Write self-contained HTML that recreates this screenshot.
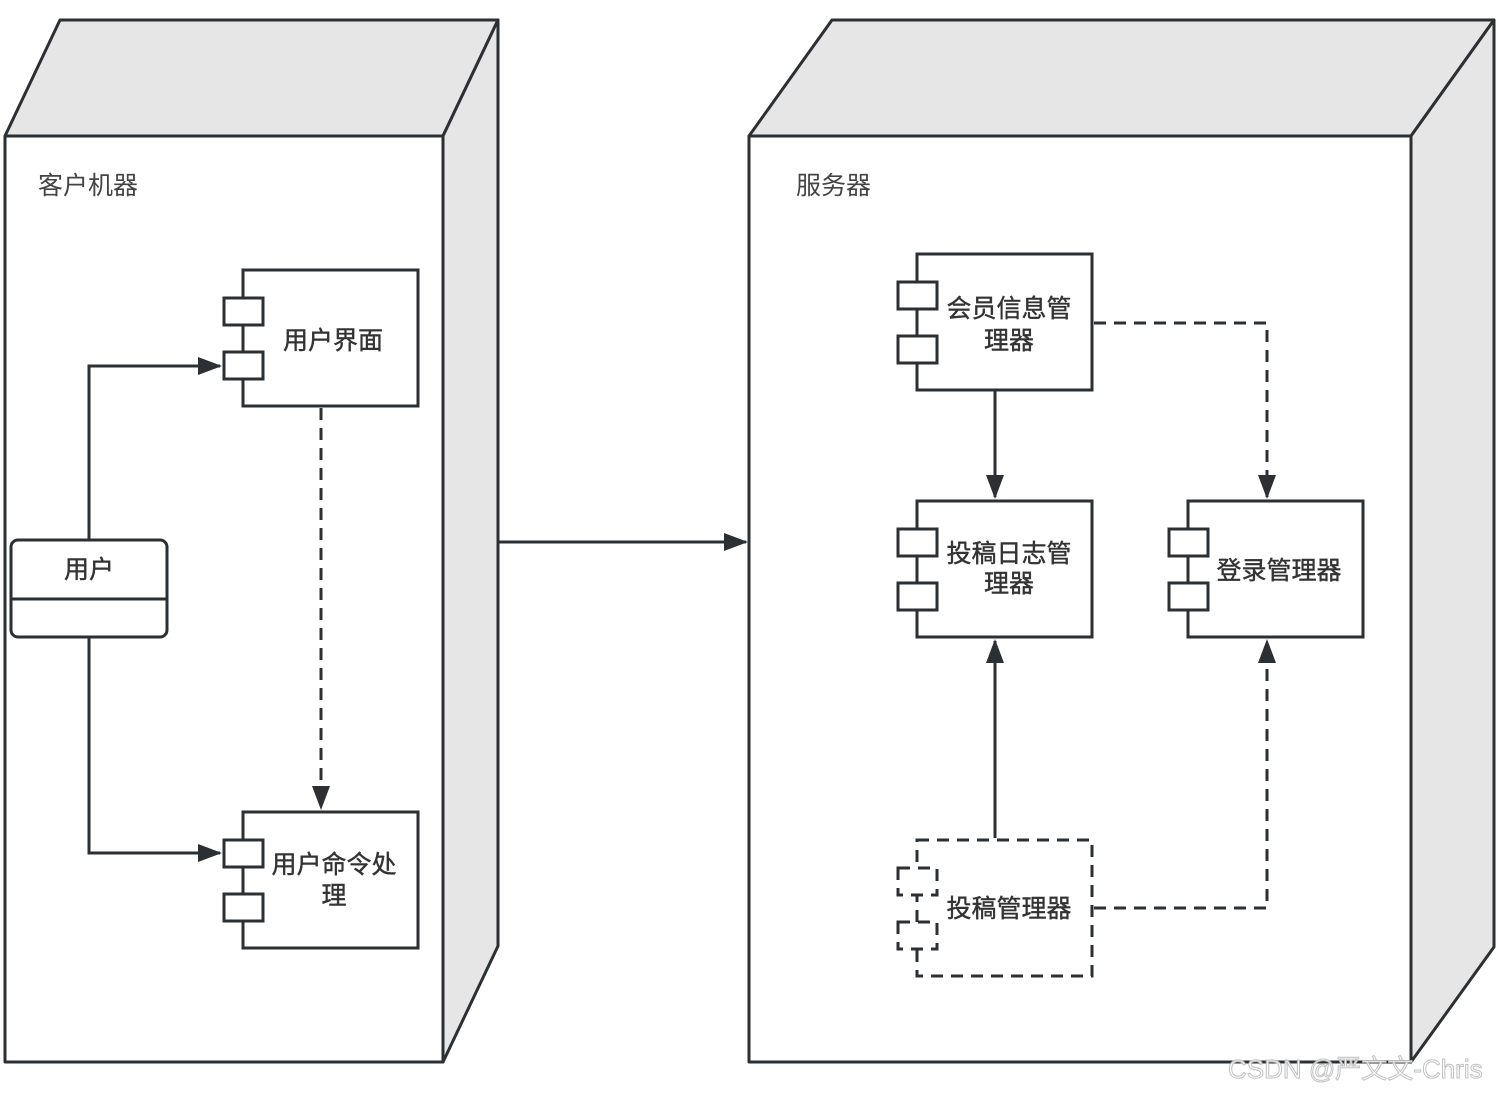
<!DOCTYPE html>
<html><head><meta charset="utf-8"><style>
html,body{margin:0;padding:0;background:#fff}
svg{display:block}
text{font-family:"Liberation Sans","Noto Sans CJK SC",sans-serif}
</style></head><body>
<svg width="1498" height="1094" viewBox="0 0 1498 1094" xmlns="http://www.w3.org/2000/svg">
<defs>
<marker id="b" markerWidth="24" markerHeight="18" refX="22" refY="9" orient="auto" markerUnits="userSpaceOnUse" viewBox="0 0 24 18">
<path d="M0,0 L24,9 L0,18 Z" fill="#2b3034"/></marker>
</defs>
<g stroke="#2b3034" stroke-width="3" stroke-linejoin="round">
<polygon points="5,136 60,20 498,20 443,136" fill="#e6e6e6"/>
<polygon points="443,136 498,20 498,946 443,1062" fill="#e6e6e6"/>
<rect x="5" y="136" width="438" height="926" fill="#fff"/>
<polygon points="749,136 832,20 1494,20 1411,136" fill="#e6e6e6"/>
<polygon points="1411,136 1494,20 1494,947 1411,1062" fill="#e6e6e6"/>
<rect x="749" y="136" width="662" height="926" fill="#fff"/>
</g>
<text x="38" y="194" font-size="25" fill="#444">客户机器</text>
<text x="796" y="194" font-size="25" fill="#444">服务器</text>
<g stroke="#2b3034" stroke-width="3" fill="none">
<polyline points="89,540 89,366 220,366" marker-end="url(#b)"/>
<polyline points="89,637 89,853 220,853" marker-end="url(#b)"/>
<line x1="321" y1="408" x2="321" y2="808" stroke-dasharray="12,8" marker-end="url(#b)"/>
<line x1="498" y1="542" x2="746" y2="542" marker-end="url(#b)"/>
<line x1="995" y1="390" x2="995" y2="497" marker-end="url(#b)"/>
<polyline points="1094,323 1267,323 1267,497" stroke-dasharray="12,8" marker-end="url(#b)"/>
<line x1="995" y1="838" x2="995" y2="641" marker-end="url(#b)"/>
<polyline points="1094,908 1267,908 1267,641" stroke-dasharray="12,8" marker-end="url(#b)"/>
</g>
<g stroke="#2b3034" stroke-width="3" fill="#fff">
<rect x="11" y="540" width="156" height="97" rx="7"/>
<line x1="11" y1="599" x2="167" y2="599"/>
<rect x="243" y="270" width="175" height="136"/>
<rect x="224" y="298" width="39" height="27"/><rect x="224" y="352" width="39" height="27"/>
<rect x="243" y="812" width="175" height="136"/>
<rect x="224" y="840" width="39" height="27"/><rect x="224" y="894" width="39" height="27"/>
<rect x="917" y="254" width="175" height="136"/>
<rect x="898" y="282" width="39" height="27"/><rect x="898" y="336" width="39" height="27"/>
<rect x="917" y="501" width="175" height="136"/>
<rect x="898" y="529" width="39" height="27"/><rect x="898" y="583" width="39" height="27"/>
<rect x="1188" y="501" width="175" height="136"/>
<rect x="1169" y="529" width="39" height="27"/><rect x="1169" y="583" width="39" height="27"/>
<g stroke-dasharray="12,8">
<rect x="917" y="840" width="175" height="136"/>
<rect x="898" y="868" width="39" height="27"/><rect x="898" y="922" width="39" height="27"/>
</g>
</g>
<g font-size="25" fill="#333" text-anchor="middle" stroke="#333" stroke-width="0.4">
<text x="89" y="578">用户</text>
<text x="333" y="349">用户界面</text>
<text x="334" y="873">用户命令处</text>
<text x="334" y="904">理</text>
<text x="1009" y="317">会员信息管</text>
<text x="1009" y="349">理器</text>
<text x="1009" y="562">投稿日志管</text>
<text x="1009" y="592">理器</text>
<text x="1279" y="579">登录管理器</text>
<text x="1009" y="917">投稿管理器</text>
</g>
<text x="1228" y="1078" font-size="26" fill="#fff" stroke="#bbb" stroke-width="1" opacity="0.9">CSDN @严文文-Chris</text>
</svg>
</body></html>
